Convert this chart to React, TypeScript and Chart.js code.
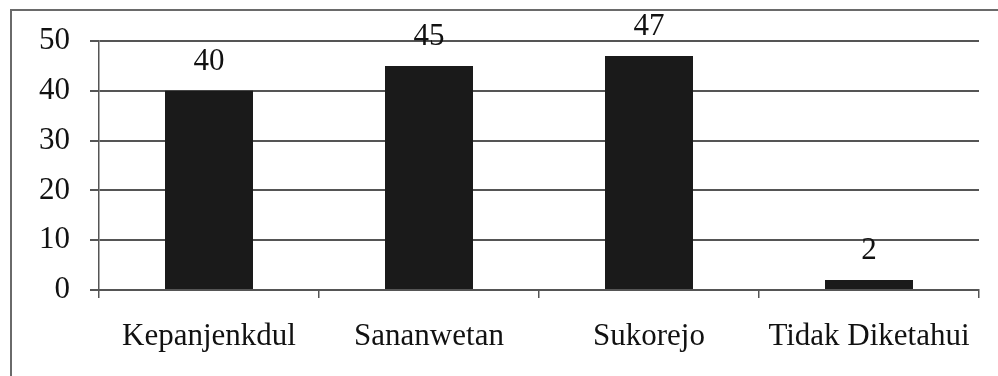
import React, { useEffect, useRef } from "react";
import { Chart, registerables } from "chart.js";

Chart.register(...registerables);

const categories = ["Kepanjenkdul", "Sananwetan", "Sukorejo", "Tidak Diketahui"];
const counts = [40, 45, 47, 2];
const yTicks = [0, 10, 20, 30, 40, 50];

const FONT = "'Liberation Serif', 'Times New Roman', serif";
const INK = "#1a1a1a";
const TEXT = "#111";
const RULE = "#555";

// Draws the outer frame and the value above each bar
const framePlugin = {
  id: "frameAndValues",
  afterDraw(chart: any) {
    const ctx = chart.ctx as CanvasRenderingContext2D;
    ctx.save();
    ctx.strokeStyle = "#6a6a6a";
    ctx.lineWidth = 2;
    ctx.beginPath();
    ctx.moveTo(11, chart.height);
    ctx.lineTo(11, 10);
    ctx.lineTo(chart.width, 10);
    ctx.stroke();

    const meta = chart.getDatasetMeta(0);
    ctx.fillStyle = TEXT;
    ctx.font = `31px ${FONT}`;
    ctx.textAlign = "center";
    ctx.textBaseline = "middle";
    meta.data.forEach((bar: any, i: number) => {
      ctx.fillText(String(counts[i]), bar.x, bar.y - 29);
    });
    ctx.restore();
  },
};

export default function App() {
  const ref = useRef<HTMLCanvasElement | null>(null);

  useEffect(() => {
    if (!ref.current) return;
    const chart = new Chart(ref.current, {
      type: "bar",
      data: {
        labels: categories,
        datasets: [
          {
            data: counts,
            backgroundColor: INK,
            borderWidth: 0,
            barPercentage: 0.5,
            categoryPercentage: 0.8,
          },
        ],
      },
      options: {
        responsive: false,
        animation: false,
        layout: { padding: { left: 0, top: 41, right: 19, bottom: 0 } },
        plugins: { legend: { display: false }, tooltip: { enabled: false } },
        scales: {
          x: {
            grid: {
              offset: true,
              drawOnChartArea: false,
              color: RULE,
              tickLength: 8,
              lineWidth: 1.5,
            },
            border: { color: RULE, width: 2 },
            ticks: {
              color: TEXT,
              font: { family: FONT, size: 31 },
              padding: 20,
              maxRotation: 0,
            },
            afterFit(scale: any) {
              scale.height = 86;
            },
          },
          y: {
            min: 0,
            max: 50,
            afterBuildTicks(scale: any) {
              scale.ticks = yTicks.map((v) => ({ value: v }));
            },
            grid: { color: RULE, lineWidth: 2, tickLength: 9 },
            border: { color: RULE, width: 1.5 },
            ticks: {
              color: TEXT,
              font: { family: FONT, size: 31 },
              padding: 20,
            },
            afterFit(scale: any) {
              scale.width = 99;
            },
          },
        },
      },
      plugins: [framePlugin],
    });
    return () => chart.destroy();
  }, []);

  return (
    <div style={{ position: "fixed", left: 0, top: 0, width: 998, height: 376, background: "#fff" }}>
      <canvas ref={ref} width={998} height={376} style={{ display: "block" }} />
    </div>
  );
}
